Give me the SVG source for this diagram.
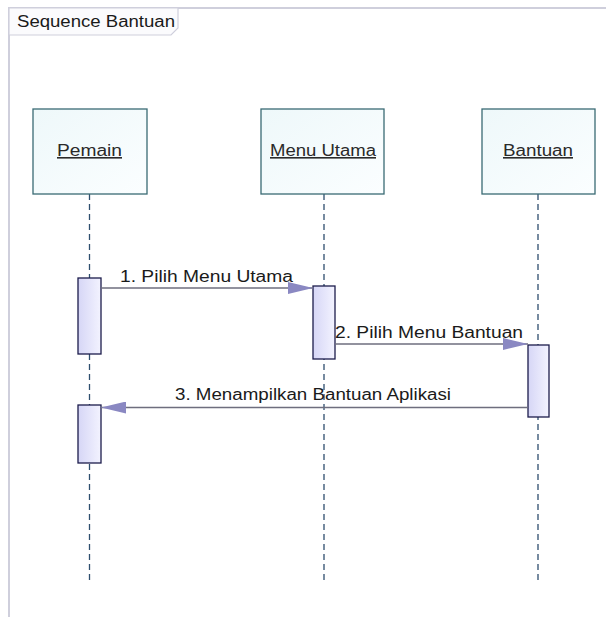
<svg xmlns="http://www.w3.org/2000/svg" width="606" height="617" viewBox="0 0 606 617">
  <defs>
    <linearGradient id="boxFill" x1="0" y1="0" x2="1" y2="1">
      <stop offset="0" stop-color="#eef8fa"/>
      <stop offset="1" stop-color="#fbfeff"/>
    </linearGradient>
    <linearGradient id="actFill" x1="0" y1="0" x2="1" y2="0">
      <stop offset="0" stop-color="#d6d6f6"/>
      <stop offset="1" stop-color="#f3f3ff"/>
    </linearGradient>
    <marker id="arrow" markerUnits="userSpaceOnUse" markerWidth="26" markerHeight="12" refX="25" refY="6" orient="auto">
      <path d="M0,0 L25,6 L0,12 Z" fill="#8a88c2"/>
    </marker>
    <style>
      .frame { fill: none; stroke: #cfcfdc; stroke-width: 2; }
      .box { fill: url(#boxFill); stroke: #3a6a74; stroke-width: 1.3; }
      .act { fill: url(#actFill); stroke: #1c1c4c; stroke-width: 1.3; }
      .life { stroke: #2e4e6e; stroke-width: 1.3; stroke-dasharray: 6 4; fill: none; }
      .msg { stroke: #6e6e7e; stroke-width: 1.3; fill: none; marker-end: url(#arrow); }
      .lbl { font-family: "Liberation Sans", Arial, sans-serif; font-size: 16px; fill: #1a1a1a; }
      .name { font-family: "Liberation Sans", Arial, sans-serif; font-size: 16px; fill: #2a2a2a; text-decoration: underline; }
    </style>
  </defs>
  <rect x="0" y="0" width="606" height="617" fill="#ffffff"/>
  <g id="frame">
    <path class="frame" d="M9,617 L9,8 L606,8"/>
    <path d="M9,8 L178,8 L178,28 L171,35 L9,35 Z" fill="#fbfbfd" stroke="#cfcfdc" stroke-width="1.2"/>
    <text class="lbl" x="17" y="27" textLength="158" lengthAdjust="spacingAndGlyphs" fill="#2a2a2a">Sequence Bantuan</text>
  </g>

  <g id="lifelines">
    <line class="life" x1="89.5" y1="194" x2="89.5" y2="583"/>
    <line class="life" x1="324" y1="194" x2="324" y2="583"/>
    <line class="life" x1="538" y1="194" x2="538" y2="583"/>
  </g>

  <g id="pemain">
    <rect class="box" x="33" y="109" width="114" height="85"/>
    <text class="name" x="89.5" y="156" text-anchor="middle" textLength="65" lengthAdjust="spacingAndGlyphs">Pemain</text>
  </g>
  <g id="menu-utama">
    <rect class="box" x="261" y="109" width="123" height="85"/>
    <text class="name" x="323" y="156" text-anchor="middle" textLength="106" lengthAdjust="spacingAndGlyphs">Menu Utama</text>
  </g>
  <g id="bantuan">
    <rect class="box" x="482" y="109" width="113" height="85"/>
    <text class="name" x="538" y="156" text-anchor="middle" textLength="70" lengthAdjust="spacingAndGlyphs">Bantuan</text>
  </g>

  <g id="activations">
    <rect class="act" x="78" y="278" width="23" height="76"/>
    <rect class="act" x="313" y="286" width="22" height="73"/>
    <rect class="act" x="528" y="345" width="21" height="72"/>
    <rect class="act" x="78" y="405" width="23" height="58"/>
  </g>

  <g id="connectors">
    <line class="msg" x1="101" y1="288" x2="313" y2="288"/>
    <line class="msg" x1="335" y1="344" x2="528" y2="344"/>
    <line class="msg" x1="528" y1="407.5" x2="101" y2="407.5"/>
    <text class="lbl" x="120" y="282" textLength="173" lengthAdjust="spacingAndGlyphs">1. Pilih Menu Utama</text>
    <text class="lbl" x="335" y="338" textLength="188" lengthAdjust="spacingAndGlyphs">2. Pilih Menu Bantuan</text>
    <text class="lbl" x="175" y="400" textLength="276" lengthAdjust="spacingAndGlyphs">3. Menampilkan Bantuan Aplikasi</text>
  </g>
</svg>
